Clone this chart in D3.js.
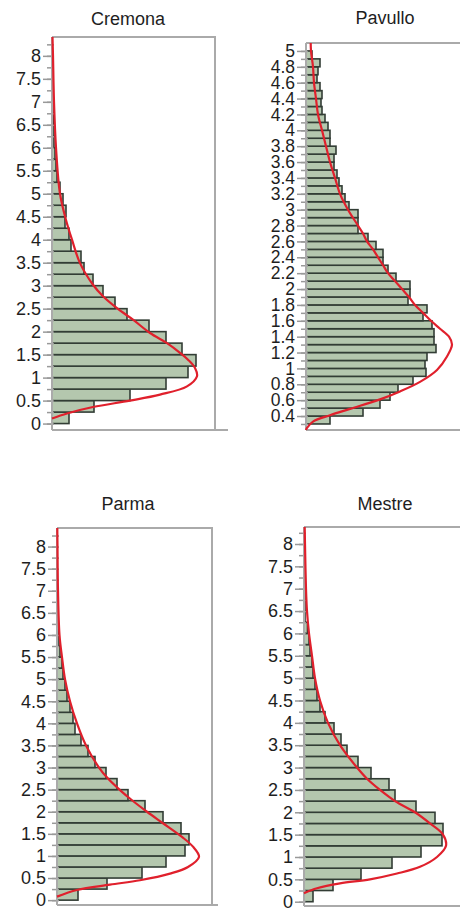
<!DOCTYPE html>
<html>
<head>
<meta charset="utf-8">
<script src="https://cdn.jsdelivr.net/npm/d3@7"></script>
<style>
  body { margin: 0; background: #fff; }
  svg { display: block; }
  text { font-family: "Liberation Sans", Arial, sans-serif; fill: #1e1e1e; }
</style>
</head>
<body>
<svg id="chart" width="460" height="909"></svg>
<script>
// ---- data (bar lengths in frequency units) ----
const panelNames = ["Cremona", "Pavullo", "Parma", "Mestre"];
const binStart = [0, 0.3, 0, 0];
const binWidth = [0.25, 0.1, 0.25, 0.25];

const cremonaBars = [17, 42, 78, 114, 136, 144, 130, 114, 97, 75, 63, 51, 41, 32, 29, 19,
  17, 13, 14, 11, 8, 5, 4, 3, 2, 2, 1.5, 1, 1, 1];
const pavulloBars = [24, 57, 74, 84, 92, 107, 120, 119, 121, 130, 128, 128, 126, 117, 121, 102,
  104, 104, 90, 82, 77, 77, 70, 62, 52, 52, 52, 43, 39, 36, 33, 31, 28, 28, 30, 24, 24, 22,
  19, 16, 15, 16, 14, 11, 12, 14, 6];
const parmaBars = [21, 50, 85, 109, 128, 132, 124, 106, 88, 71, 60, 49, 38, 31, 24, 18,
  16, 13, 10, 8, 6, 5, 3, 2, 1.5, 1];
const mestreBars = [9, 29, 57, 88, 117, 138, 139, 131, 112, 91, 85, 67, 54, 43, 37, 30,
  21, 16, 13, 11, 9, 8, 6, 5, 3.5, 1, 1, 1];

// fitted density curves, [value, density] points
const cremonaFit = [[0.11, 0], [0.22, 15], [0.36, 41], [0.5, 78], [0.63, 108], [0.81, 135],
  [1.03, 145], [1.21, 143], [1.39, 136], [1.54, 128], [1.75, 115], [1.97, 98], [2.26, 81],
  [2.51, 65], [2.77, 51], [3.02, 41], [3.49, 28], [4.0, 20], [4.43, 14], [5.0, 8], [6.0, 4],
  [7.0, 2], [8.0, 1], [8.41, 0.5]];
const pavulloFit = [[0.224, 0], [0.25, 1], [0.33, 7], [0.41, 24], [0.49, 44], [0.61, 74],
  [0.71, 94], [0.83, 114], [0.98, 131], [1.15, 141], [1.3, 146], [1.4, 143], [1.5, 134],
  [1.6, 125], [1.7, 117], [1.8, 109], [1.9, 103], [2.0, 96], [2.1, 89], [2.2, 82], [2.3, 77],
  [2.4, 72], [2.5, 67], [2.6, 61], [2.7, 57], [2.8, 52], [3.0, 42], [3.2, 34], [3.4, 29],
  [3.6, 24], [3.8, 20], [4.0, 16], [4.2, 12], [4.4, 10], [4.6, 8], [4.8, 7], [5.0, 5], [5.1, 4.7]];
const parmaFit = [[0.08, 0], [0.23, 20], [0.35, 53], [0.45, 83], [0.6, 113], [0.75, 131],
  [0.98, 142], [1.21, 136], [1.43, 125], [1.74, 106], [2.0, 90], [2.26, 75], [2.49, 63],
  [2.75, 51], [3.0, 42], [3.5, 29], [4.0, 20], [4.5, 13], [5.0, 8], [5.5, 5], [6.0, 2.5],
  [7.0, 1], [8.0, 0.5], [8.42, 0.3]];
const mestreFit = [[0.19, 0], [0.3, 13], [0.41, 36], [0.5, 66], [0.63, 93], [0.78, 116],
  [1.0, 133], [1.25, 142], [1.5, 139], [1.75, 126], [2.0, 111], [2.25, 91], [2.5, 76],
  [2.75, 63], [3.0, 53], [3.5, 36], [4.0, 24], [4.5, 16], [5.0, 11], [5.5, 8], [6.0, 5],
  [6.5, 3], [7.0, 2], [8.0, 1], [8.38, 0.7]];

const majorTicks = [d3.range(0, 8.01, 0.5), d3.range(0.4, 5.01, 0.2), d3.range(0, 8.01, 0.5), d3.range(0, 8.01, 0.5)];
const minorTicks = [d3.range(0, 8.3, 0.25), d3.range(0.3, 5.05, 0.1), d3.range(0, 8.3, 0.25), d3.range(0, 8.3, 0.25)];
const yDomains = [[-0.14, 8.41], [0.224, 5.10], [-0.11, 8.42], [-0.096, 8.38]];

const allBars = [cremonaBars, pavulloBars, parmaBars, mestreBars];
const allFits = [cremonaFit, pavulloFit, parmaFit, mestreFit];

// ---- layout ----
const layout = [
  { left: 52, top: 37, right: 215, bottom: 430, baseEnd: 228, tx: 128, ty: 25, fs: 18 },
  { left: 306, top: 43, right: 466, bottom: 430, baseEnd: 470, tx: 385, ty: 24, fs: 17.5 },
  { left: 57, top: 528, right: 212, bottom: 905, baseEnd: 218, tx: 128, ty: 510, fs: 18 },
  { left: 304, top: 527, right: 464, bottom: 906, baseEnd: 470, tx: 385, ty: 510, fs: 18 }
];

const svg = d3.select("#chart");
const fmt = d => String(+d.toFixed(1));

panelNames.forEach((name, i) => {
  const L = layout[i];
  const g = svg.append("g");

  const y = d3.scaleLinear().domain(yDomains[i]).range([L.bottom, L.top]);
  const x = d3.scaleLinear().domain([0, 160]).range([L.left, L.left + 160]);

  g.append("text")
    .attr("x", L.tx).attr("y", L.ty)
    .attr("text-anchor", "middle")
    .attr("font-size", 18)
    .text(name);

  // frame
  g.append("path")
    .attr("d", `M${L.left},${L.top}H${L.right}V${L.bottom}`)
    .attr("fill", "none").attr("stroke", "#aaa").attr("stroke-width", 2);
  g.append("line")
    .attr("x1", L.left).attr("x2", L.baseEnd)
    .attr("y1", L.bottom).attr("y2", L.bottom)
    .attr("stroke", "#aaa").attr("stroke-width", 2);

  // bars
  const bins = allBars[i].map((v, k) => ({ lo: binStart[i] + k * binWidth[i], v }));
  g.selectAll("rect.bar")
    .data(bins)
    .join("rect")
    .attr("class", "bar")
    .attr("x", x(0))
    .attr("y", d => y(d.lo + binWidth[i]))
    .attr("width", d => x(d.v) - x(0))
    .attr("height", d => y(d.lo) - y(d.lo + binWidth[i]))
    .attr("fill", "#b4c7ae")
    .attr("stroke", "#323d35")
    .attr("stroke-width", 1.6);

  // axes
  const minor = g.append("g")
    .attr("transform", `translate(${L.left},0)`)
    .call(d3.axisLeft(y).tickValues(minorTicks[i]).tickSize(5).tickFormat(""));
  minor.select(".domain").remove();
  minor.selectAll("line").attr("stroke", "#999").attr("stroke-width", 1.5).attr("x2", -5).attr("x1", 2);

  const major = g.append("g")
    .attr("transform", `translate(${L.left},0)`)
    .call(d3.axisLeft(y).tickValues(majorTicks[i]).tickSize(9).tickPadding(2).tickFormat(fmt));
  major.select(".domain").remove();
  major.selectAll("line").attr("stroke", "#999").attr("stroke-width", 1.5);
  major.selectAll("text")
    .attr("font-size", L.fs)
    .attr("font-family", "'Liberation Sans', Arial, sans-serif")
    .attr("fill", "#1e1e1e");

  g.append("line")
    .attr("x1", L.left).attr("x2", L.left)
    .attr("y1", L.top).attr("y2", L.bottom)
    .attr("stroke", "#aaa").attr("stroke-width", 2);

  // fitted curve
  const line = d3.line()
    .x(d => x(d[1]))
    .y(d => y(d[0]))
    .curve(d3.curveCatmullRom.alpha(0.5));
  g.append("path")
    .datum(allFits[i])
    .attr("d", line)
    .attr("fill", "none")
    .attr("stroke", "#e0202c")
    .attr("stroke-width", 2.2);
});
</script>
</body>
</html>
